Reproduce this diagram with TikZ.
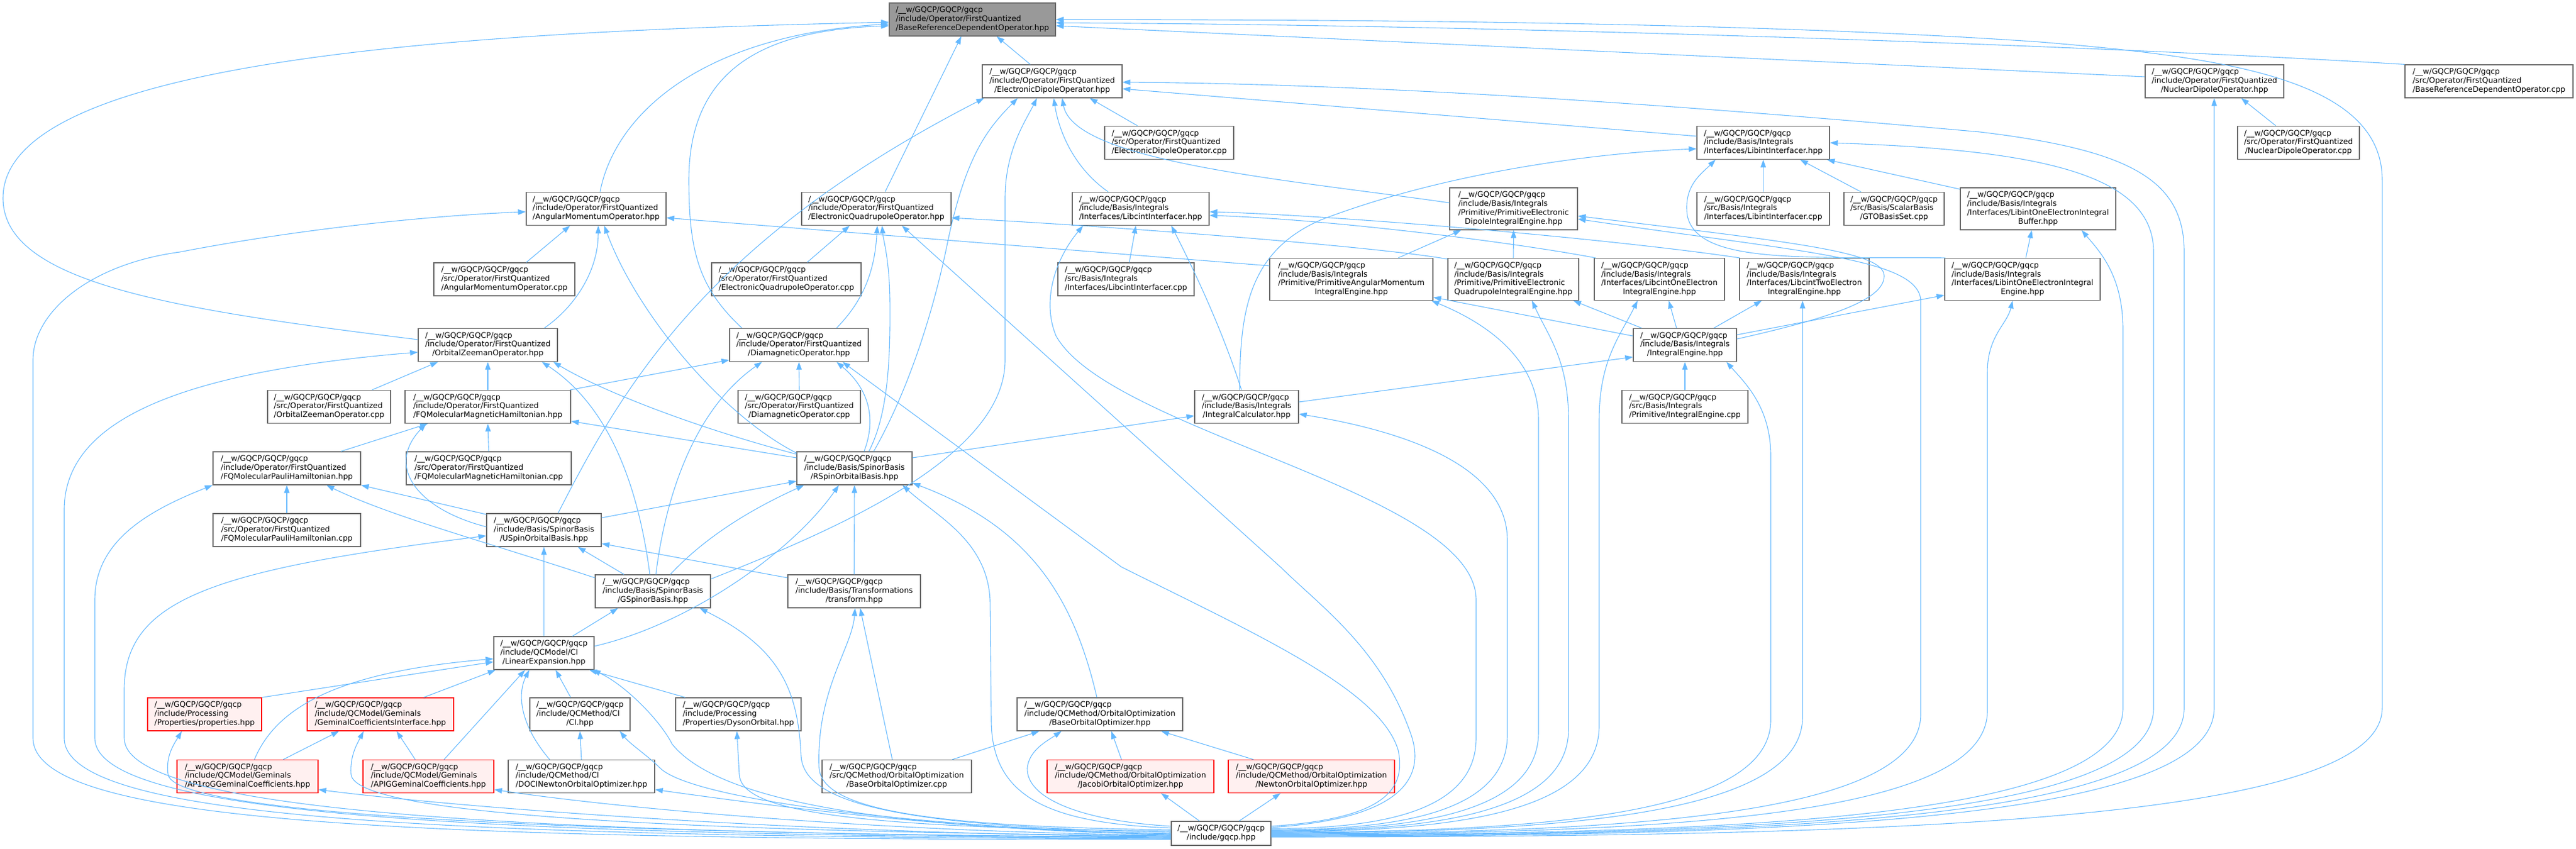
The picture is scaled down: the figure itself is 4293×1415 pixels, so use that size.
\documentclass[tikz,border=0pt]{standalone}
\usepackage{fontspec}
\setmainfont{DejaVu Sans}
\usetikzlibrary{arrows.meta}
\definecolor{edgec}{HTML}{63B8FF}
\definecolor{nodeb}{HTML}{666666}
\definecolor{rootf}{HTML}{999999}
\definecolor{redf}{HTML}{FFF0F0}
\newcommand{\dxlbl}[2]{\begin{tabular}{@{}l@{}}#1\\\multicolumn{1}{@{}c@{}}{#2}\end{tabular}}
\newcommand{\gqw}{/\_\_w/GQCP/GQCP/gqcp}
\begin{document}
\begin{tikzpicture}[x=1pt,y=-1pt,font=\fontsize{12.8}{14.8}\selectfont,
  box/.style={draw=nodeb,line width=1.3pt,fill=white,inner sep=0pt,rectangle,minimum height=55},
  tall/.style={minimum height=70},
  rootbox/.style={box,fill=rootf},
  redbox/.style={box,draw=red,fill=redf},
  e/.style={draw=edgec,line width=1.1pt,-{Triangle[length=13pt,width=9pt]}}]
\useasboundingbox (0,0) rectangle (4293,1415);
% ---------------- nodes ----------------
\node[rootbox,minimum width=277] (main) at (1620.5,32.5) {\dxlbl{\gqw\\/include/Operator/FirstQuantized}{/BaseReferenceDependentOperator.hpp}};
\node[box,minimum width=233] (EDOh) at (1753.5,135.5) {\dxlbl{\gqw\\/include/Operator/FirstQuantized}{/ElectronicDipoleOperator.hpp}};
\node[box,minimum width=231] (NDOh) at (3690.5,135.5) {\dxlbl{\gqw\\/include/Operator/FirstQuantized}{/NuclearDipoleOperator.hpp}};
\node[box,minimum width=280] (BRDOc) at (4148,135.5) {\dxlbl{\gqw\\/src/Operator/FirstQuantized}{/BaseReferenceDependentOperator.cpp}};
\node[box,minimum width=215] (EDOc) at (1948.5,238) {\dxlbl{\gqw\\/src/Operator/FirstQuantized}{/ElectronicDipoleOperator.cpp}};
\node[box,minimum width=221] (LIh) at (2938.5,238) {\dxlbl{\gqw\\/include/Basis/Integrals}{/Interfaces/LibintInterfacer.hpp}};
\node[box,minimum width=203] (NDOc) at (3830.5,238) {\dxlbl{\gqw\\/src/Operator/FirstQuantized}{/NuclearDipoleOperator.cpp}};
\node[box,minimum width=233] (AMOh) at (993.5,348) {\dxlbl{\gqw\\/include/Operator/FirstQuantized}{/AngularMomentumOperator.hpp}};
\node[box,minimum width=249] (EQOh) at (1460.5,348) {\dxlbl{\gqw\\/include/Operator/FirstQuantized}{/ElectronicQuadrupoleOperator.hpp}};
\node[box,minimum width=228] (LCIh) at (1901,348) {\dxlbl{\gqw\\/include/Basis/Integrals}{/Interfaces/LibcintInterfacer.hpp}};
\node[box,tall,minimum width=213] (PEDh) at (2522.5,348) {\dxlbl{\gqw\\/include/Basis/Integrals\\/Primitive/PrimitiveElectronic}{DipoleIntegralEngine.hpp}};
\node[box,minimum width=221] (LIc) at (2938.5,348) {\dxlbl{\gqw\\/src/Basis/Integrals}{/Interfaces/LibintInterfacer.cpp}};
\node[box,minimum width=167] (GTOc) at (3156.5,348) {\dxlbl{\gqw\\/src/Basis/ScalarBasis}{/GTOBasisSet.cpp}};
\node[box,tall,minimum width=259] (LBUFh) at (3396.5,348) {\dxlbl{\gqw\\/include/Basis/Integrals\\/Interfaces/LibintOneElectronIntegral}{Buffer.hpp}};
\node[box,minimum width=235] (AMOc) at (840.5,465.5) {\dxlbl{\gqw\\/src/Operator/FirstQuantized}{/AngularMomentumOperator.cpp}};
\node[box,minimum width=249] (EQOc) at (1310.5,465.5) {\dxlbl{\gqw\\/src/Operator/FirstQuantized}{/ElectronicQuadrupoleOperator.cpp}};
\node[box,minimum width=227] (LCIc) at (1876.5,465.5) {\dxlbl{\gqw\\/src/Basis/Integrals}{/Interfaces/LibcintInterfacer.cpp}};
\node[box,tall,minimum width=272] (PAMh) at (2252,465.5) {\dxlbl{\gqw\\/include/Basis/Integrals\\/Primitive/PrimitiveAngularMomentum}{IntegralEngine.hpp}};
\node[box,tall,minimum width=218] (PEQh) at (2522,465.5) {\dxlbl{\gqw\\/include/Basis/Integrals\\/Primitive/PrimitiveElectronic}{QuadrupoleIntegralEngine.hpp}};
\node[box,tall,minimum width=217] (LCOh) at (2765.5,465.5) {\dxlbl{\gqw\\/include/Basis/Integrals\\/Interfaces/LibcintOneElectron}{IntegralEngine.hpp}};
\node[box,tall,minimum width=216] (LCTh) at (3007,465.5) {\dxlbl{\gqw\\/include/Basis/Integrals\\/Interfaces/LibcintTwoElectron}{IntegralEngine.hpp}};
\node[box,tall,minimum width=259] (LIOh) at (3370.5,465.5) {\dxlbl{\gqw\\/include/Basis/Integrals\\/Interfaces/LibintOneElectronIntegral}{Engine.hpp}};
\node[box,minimum width=232] (OZOh) at (813,575) {\dxlbl{\gqw\\/include/Operator/FirstQuantized}{/OrbitalZeemanOperator.hpp}};
\node[box,minimum width=231] (DMOh) at (1331.5,575) {\dxlbl{\gqw\\/include/Operator/FirstQuantized}{/DiamagneticOperator.hpp}};
\node[box,minimum width=172] (IEh) at (2808,575) {\dxlbl{\gqw\\/include/Basis/Integrals}{/IntegralEngine.hpp}};
\node[box,minimum width=205] (OZOc) at (548.5,678) {\dxlbl{\gqw\\/src/Operator/FirstQuantized}{/OrbitalZeemanOperator.cpp}};
\node[box,minimum width=276] (FMMh) at (813,678) {\dxlbl{\gqw\\/include/Operator/FirstQuantized}{/FQMolecularMagneticHamiltonian.hpp}};
\node[box,minimum width=204] (DMOc) at (1332,678) {\dxlbl{\gqw\\/src/Operator/FirstQuantized}{/DiamagneticOperator.cpp}};
\node[box,minimum width=173] (ICh) at (2077.5,678) {\dxlbl{\gqw\\/include/Basis/Integrals}{/IntegralCalculator.hpp}};
\node[box,minimum width=210] (IEc) at (2808,678) {\dxlbl{\gqw\\/src/Basis/Integrals}{/Primitive/IntegralEngine.cpp}};
\node[box,minimum width=246] (FMPh) at (478,780.5) {\dxlbl{\gqw\\/include/Operator/FirstQuantized}{/FQMolecularPauliHamiltonian.hpp}};
\node[box,minimum width=275] (FMMc) at (814.5,780.5) {\dxlbl{\gqw\\/src/Operator/FirstQuantized}{/FQMolecularMagneticHamiltonian.cpp}};
\node[box,minimum width=192] (RSOh) at (1424,780.5) {\dxlbl{\gqw\\/include/Basis/SpinorBasis}{/RSpinOrbitalBasis.hpp}};
\node[box,minimum width=246] (FMPc) at (478,883.5) {\dxlbl{\gqw\\/src/Operator/FirstQuantized}{/FQMolecularPauliHamiltonian.cpp}};
\node[box,minimum width=191] (USOh) at (906.5,883.5) {\dxlbl{\gqw\\/include/Basis/SpinorBasis}{/USpinOrbitalBasis.hpp}};
\node[box,minimum width=192] (GSBh) at (1088,985.5) {\dxlbl{\gqw\\/include/Basis/SpinorBasis}{/GSpinorBasis.hpp}};
\node[box,minimum width=221] (TRh) at (1423.5,985.5) {\dxlbl{\gqw\\/include/Basis/Transformations}{/transform.hpp}};
\node[box,minimum width=167] (LEh) at (906.5,1088.5) {\dxlbl{\gqw\\/include/QCModel/CI}{/LinearExpansion.hpp}};
\node[redbox,minimum width=190] (PROPh) at (341,1190.5) {\dxlbl{\gqw\\/include/Processing}{/Properties/properties.hpp}};
\node[redbox,minimum width=244] (GCIh) at (634,1190.5) {\dxlbl{\gqw\\/include/QCModel/Geminals}{/GeminalCoefficientsInterface.hpp}};
\node[box,minimum width=167] (CIh) at (966.5,1190.5) {\dxlbl{\gqw\\/include/QCMethod/CI}{/CI.hpp}};
\node[box,minimum width=209] (DYSh) at (1230.5,1190.5) {\dxlbl{\gqw\\/include/Processing}{/Properties/DysonOrbital.hpp}};
\node[box,minimum width=276] (BOOh) at (1833,1190.5) {\dxlbl{\gqw\\/include/QCMethod/OrbitalOptimization}{/BaseOrbitalOptimizer.hpp}};
\node[redbox,minimum width=235] (AP1h) at (412.5,1294) {\dxlbl{\gqw\\/include/QCModel/Geminals}{/AP1roGGeminalCoefficients.hpp}};
\node[redbox,minimum width=218] (APIGh) at (714,1294) {\dxlbl{\gqw\\/include/QCModel/Geminals}{/APIGGeminalCoefficients.hpp}};
\node[box,minimum width=244] (DOCIh) at (969,1294) {\dxlbl{\gqw\\/include/QCMethod/CI}{/DOCINewtonOrbitalOptimizer.hpp}};
\node[box,minimum width=249] (BOOc) at (1494.5,1294) {\dxlbl{\gqw\\/src/QCMethod/OrbitalOptimization}{/BaseOrbitalOptimizer.cpp}};
\node[redbox,minimum width=278] (JACh) at (1884,1294) {\dxlbl{\gqw\\/include/QCMethod/OrbitalOptimization}{/JacobiOrbitalOptimizer.hpp}};
\node[redbox,minimum width=277] (NEWh) at (2185.5,1294) {\dxlbl{\gqw\\/include/QCMethod/OrbitalOptimization}{/NewtonOrbitalOptimizer.hpp}};
\node[box,minimum width=166,minimum height=40] (gq) at (2035,1389) {\dxlbl{\gqw}{/include/gqcp.hpp}};
% ---------------- edges into BaseReferenceDependentOperator.hpp ----------------
\draw[e] ([xshift=6.5]AMOh.north) .. controls (1025,190) and (1170,58) .. ([yshift=-7.5]main.west);
\draw[e] ([yshift=9]OZOh.west) .. controls (280,515) and (5,470) .. (5,330) .. controls (5,95) and (800,52) .. ([yshift=-4.5]main.west);
\draw[e] ([xshift=-95]DMOh.north) .. controls (1165,480) and (1148,420) .. (1148,300) .. controls (1148,110) and (1280,50) .. ([yshift=-10.5]main.west);
\draw[e] ([xshift=14.5]EQOh.north) -- ([xshift=-18.5]main.south);
\draw[e] ([xshift=-36.5]EDOh.north) -- ([xshift=40.5]main.south);
\draw[e] ([yshift=7.5]NDOh.west) -- ([yshift=-10.5]main.east);
\draw[e] (BRDOc.north west) .. controls (3600,82) and (2600,42) .. ([yshift=-5.5]main.east);
\draw[e] ([yshift=-6]gq.east) .. controls (3137,1395) and (3970,1372) .. (3970,1180) -- (3970,300) .. controls (3970,130) and (3700,95) .. (3400,70) .. controls (2900,35) and (2200,33) .. (main.east);
% ---------------- ElectronicDipoleOperator.hpp ----------------
\draw[e] ([xshift=-52.5]EDOc.north) -- ([xshift=62.5]EDOh.south);
\draw[e] ([yshift=11]LIh.west) -- ([yshift=-12.5]EDOh.east);
\draw[e] ([yshift=-4]gq.east) .. controls (2955,1393) and (3640,1368) .. (3640,1180) -- (3640,420) .. controls (3640,300) and (3550,250) .. (3300,220) .. controls (2800,175) and (2300,140) .. ([yshift=-1.5]EDOh.east);
\draw[e] ([xshift=-54]LCIh.north) .. controls (1790,280) and (1765,220) .. ([xshift=2.5]EDOh.south);
\draw[e] ([yshift=10]PEDh.west) .. controls (2150,300) and (1790,270) .. ([xshift=16.5]EDOh.south);
\draw[e] ([xshift=32]RSOh.north) .. controls (1520,640) and (1560,500) .. (1580,400) .. controls (1610,260) and (1645,215) .. ([xshift=-57.5]EDOh.south);
\draw[e] ([xshift=23.5]USOh.north) .. controls (1040,640) and (1180,400) .. ([xshift=-113.5]EDOh.south);
\draw[e] ([yshift=20.5]GSBh.east) .. controls (1400,880) and (1675,760) .. (1675,600) -- (1675,330) .. controls (1675,250) and (1710,200) .. ([xshift=-25.5]EDOh.south);
% ---------------- NuclearDipoleOperator.hpp ----------------
\draw[e] ([xshift=-37.5]NDOc.north) -- ([xshift=44.5]NDOh.south);
\draw[e] ([yshift=-5]gq.east) .. controls (2983,1394) and (3690,1370) .. (3690,1180) -- ([xshift=-0.5]NDOh.south);
% ---------------- LibintInterfacer.hpp ----------------
\draw[e] (LIc.north) -- (LIh.south);
\draw[e] ([xshift=-55]GTOc.north) -- ([xshift=61.5]LIh.south);
\draw[e] ([yshift=-3]LBUFh.north west) -- ([xshift=-5]LIh.south east);
\draw[e] ([xshift=-11.5]ICh.north) .. controls (2066,520) and (2080,420) .. (2200,367) .. controls (2400,290) and (2650,255) .. ([yshift=-10]LIh.west);
\draw[e] ([xshift=2]LIOh.north west) .. controls (3000,428) and (2830,440) .. (2812,360) .. controls (2805,310) and (2835,290) .. ([xshift=-79.5]LIh.south);
\draw[e] ([yshift=-3]gq.east) .. controls (2927,1392) and (3589,1366) .. (3589,1180) -- (3589,420) .. controls (3589,290) and (3400,250) .. (LIh.east);
% ---------------- AngularMomentumOperator.hpp ----------------
\draw[e] ([xshift=36.5]AMOc.north) -- ([xshift=-43.5]AMOh.south);
\draw[e] ([xshift=94]OZOh.north) .. controls (960,510) and (997,450) .. ([xshift=3.5]AMOh.south);
\draw[e] ([yshift=25.5]RSOh.west) .. controls (1200,690) and (1060,520) .. ([xshift=13.5]AMOh.south);
\draw[e] ([yshift=22.5]PAMh.west) -- ([yshift=-15]AMOh.east);
\draw[e] ([yshift=-10]gq.west) .. controls (700,1400) and (55,1375) .. (55,1230) -- (55,600) .. controls (55,520) and (150,440) .. (300,420) .. controls (480,385) and (700,360) .. ([yshift=-5]AMOh.west);
% ---------------- ElectronicQuadrupoleOperator.hpp ----------------
\draw[e] ([xshift=34.5]EQOc.north) -- ([xshift=-44.5]EQOh.south);
\draw[e] ([yshift=-2]PEQh.north west) .. controls (2300,412) and (1900,380) .. ([yshift=-15]EQOh.east);
\draw[e] ([xshift=62.5]DMOh.north) .. controls (1440,500) and (1458,450) .. ([xshift=1.5]EQOh.south);
\draw[e] ([xshift=24]RSOh.north) .. controls (1480,690) and (1484,600) .. (1483,500) .. controls (1482,430) and (1472,400) .. ([xshift=9.5]EQOh.south);
\draw[e] ([yshift=10]gq.east) .. controls (2330,1365) and (2380,1300) .. (2350,1220) .. controls (2300,1080) and (2200,1010) .. (2134,945) -- ([xshift=42.5]EQOh.south);
% ---------------- LibcintInterfacer.hpp ----------------
\draw[e] ([xshift=5.5]LCIc.north) -- ([xshift=-8]LCIh.south);
\draw[e] ([xshift=3]LCOh.north west) .. controls (2500,400) and (2200,365) .. ([yshift=-11]LCIh.east);
\draw[e] ([xshift=1]LCTh.north west) .. controls (2700,400) and (2250,360) .. ([yshift=-5]LCIh.east);
\draw[e] ([xshift=-8.5]ICh.north) .. controls (2040,560) and (2000,470) .. ([xshift=51]LCIh.south);
\draw[e] ([yshift=8]gq.east) .. controls (2306,1381) and (2460,1351) .. (2460,1230) -- (2460,1000) .. controls (2460,820) and (1850,720) .. (1760,560) .. controls (1735,500) and (1760,430) .. ([xshift=-96]LCIh.south);
% ---------------- PrimitiveElectronicDipoleIntegralEngine.hpp ----------------
\draw[e] ([xshift=78]PAMh.north) -- ([xshift=-87.5]PEDh.south);
\draw[e] (PEQh.north) -- (PEDh.south);
\draw[e] ([yshift=10]IEh.east) .. controls (3050,530) and (3140,500) .. (3140,460) .. controls (3140,420) and (3000,405) .. ([yshift=-12]PEDh.east);
\draw[e] (gq.east) .. controls (2714,1389) and (3201,1359) .. (3201,1190) -- (3201,500) .. controls (3195,430) and (3000,420) .. ([yshift=-17]PEDh.east);
% ---------------- LibintOneElectronIntegralBuffer.hpp ----------------
\draw[e] ([xshift=5.5]LIOh.north) -- ([xshift=-10.5]LBUFh.south);
\draw[e] ([yshift=-2]gq.east) .. controls (2899,1391) and (3538,1364) .. (3538,1180) -- (3538,550) .. controls (3538,460) and (3500,420) .. ([xshift=72.5]LBUFh.south);
% ---------------- engines ----------------
\draw[e] ([yshift=15]IEh.west) -- ([yshift=-30]PAMh.east);
\draw[e] ([yshift=5]gq.east) .. controls (2363,1384) and (2564,1354) .. (2564,1220) -- (2564,700) .. controls (2564,600) and (2480,540) .. ([xshift=-3]PAMh.south east);
\draw[e] ([xshift=-72]IEh.north) -- ([xshift=100]PEQh.south);
\draw[e] ([yshift=4]gq.east) .. controls (2391,1385) and (2614,1355) .. (2614,1215) -- (2614,700) .. controls (2614,600) and (2580,560) .. ([xshift=31]PEQh.south);
\draw[e] ([xshift=-14]IEh.north) -- ([xshift=15.5]LCOh.south);
\draw[e] ([yshift=3]gq.east) .. controls (2419,1386) and (2665,1356) .. (2665,1210) -- (2665,700) .. controls (2665,600) and (2700,560) .. ([xshift=-36.5]LCOh.south);
\draw[e] ([xshift=48]IEh.north) -- ([xshift=-71]LCTh.south);
\draw[e] ([yshift=1]gq.east) .. controls (2605,1388) and (3004,1358) .. (3004,1195) -- ([xshift=-3]LCTh.south);
\draw[e] ([yshift=17]IEh.east) -- ([yshift=-26.5]LIOh.west);
\draw[e] ([yshift=-1]gq.east) .. controls (2775,1390) and (3312,1362) .. (3312,1185) -- (3312,620) .. controls (3312,560) and (3345,540) .. ([xshift=-16.5]LIOh.south);
% ---------------- IntegralEngine.hpp / IntegralCalculator.hpp ----------------
\draw[e] (IEc.north) -- (IEh.south);
\draw[e] ([yshift=8]ICh.east) -- ([yshift=-20]IEh.west);
\draw[e] ([yshift=2]gq.east) .. controls (2576,1387) and (2951,1357) .. (2951,1200) -- (2951,760) .. controls (2951,680) and (2910,640) .. ([xshift=69]IEh.south);
\draw[e] ([yshift=6]gq.east) .. controls (2335,1383) and (2512,1353) .. (2512,1225) -- (2512,900) .. controls (2512,780) and (2350,720) .. ([yshift=-12]ICh.east);
\draw[e] ([yshift=17.5]RSOh.east) -- ([yshift=-15]ICh.west);
% ---------------- OrbitalZeemanOperator.hpp ----------------
\draw[e] ([xshift=71.5]OZOc.north) -- ([xshift=-83]OZOh.south);
\draw[e] (FMMh.north) -- (OZOh.south);
\draw[e] ([yshift=23.5]RSOh.west) .. controls (1150,710) and (1000,650) .. ([xshift=109]OZOh.south);
\draw[e] ([xshift=-5]GSBh.north) .. controls (1065,820) and (1020,680) .. ([xshift=90]OZOh.south);
\draw[e] ([yshift=-9]gq.west) .. controls (750,1395) and (107,1368) .. (107,1230) -- (107,850) .. controls (107,700) and (300,620) .. ([yshift=-12]OZOh.west);
% ---------------- DiamagneticOperator.hpp ----------------
\draw[e] (DMOc.north) -- (DMOh.south);
\draw[e] ([xshift=137]FMMh.north) -- ([yshift=-25]DMOh.west);
\draw[e] ([xshift=5]GSBh.north) .. controls (1110,820) and (1160,680) .. ([xshift=-61.5]DMOh.south);
\draw[e] ([xshift=16]RSOh.north) .. controls (1460,700) and (1450,650) .. ([xshift=62.5]DMOh.south);
\draw[e] ([yshift=12]gq.east) .. controls (2300,1365) and (2345,1320) .. (2330,1250) .. controls (2300,1150) and (2100,1060) .. (1869,945) -- ([xshift=72.5]DMOh.south);
% ---------------- FQMolecularMagneticHamiltonian.hpp ----------------
\draw[e] (FMMc.north) -- (FMMh.south);
\draw[e] ([xshift=90]FMPh.north) -- ([xshift=-100]FMMh.south);
\draw[e] ([yshift=5.5]USOh.west) .. controls (700,850) and (640,780) .. ([xshift=-103]FMMh.south);
\draw[e] ([yshift=17.5]RSOh.west) -- ([yshift=-24]FMMh.east);
% ---------------- FQMolecularPauliHamiltonian.hpp ----------------
\draw[e] (FMPc.north) -- (FMPh.south);
\draw[e] ([yshift=-2]USOh.north west) -- (FMPh.south east);
\draw[e] ([yshift=22.5]GSBh.west) .. controls (800,900) and (650,860) .. ([xshift=66]FMPh.south);
\draw[e] ([yshift=-8]gq.west) .. controls (800,1392) and (158,1360) .. (158,1230) -- (158,1000) .. controls (158,900) and (250,850) .. (FMPh.south west);
% ---------------- RSpinOrbitalBasis.hpp ----------------
\draw[e] ([yshift=20.5]USOh.east) -- ([yshift=-21.5]RSOh.west);
\draw[e] ([xshift=29]GSBh.north) .. controls (1180,890) and (1260,845) .. ([xshift=-84]RSOh.south);
\draw[e] (TRh.north) -- (RSOh.south);
\draw[e] ([yshift=11.5]LEh.east) .. controls (1150,1040) and (1320,920) .. ([xshift=-26]RSOh.south);
\draw[e] ([xshift=-5]BOOh.north) .. controls (1790,1000) and (1720,880) .. ([yshift=-24.5]RSOh.east);
\draw[e] ([yshift=9]gq.west) .. controls (1750,1372) and (1652,1330) .. (1652,1200) -- (1650,1000) .. controls (1645,900) and (1560,860) .. ([xshift=80]RSOh.south);
% ---------------- USpinOrbitalBasis.hpp ----------------
\draw[e] ([xshift=-48]GSBh.north) -- ([xshift=56.5]USOh.south);
\draw[e] ([yshift=22.5]TRh.west) -- ([yshift=-22.5]USOh.east);
\draw[e] (LEh.north) -- (USOh.south);
\draw[e] ([yshift=-7]gq.west) .. controls (850,1390) and (207,1352) .. (207,1230) -- (207,1150) .. controls (207,1000) and (350,950) .. ([yshift=-9.5]USOh.west);
% ---------------- GSpinorBasis.hpp / transform.hpp ----------------
\draw[e] ([xshift=47.5]LEh.north) -- ([xshift=-58]GSBh.south);
\draw[e] ([yshift=2]gq.west) .. controls (1500,1378) and (1340,1340) .. (1335,1260) .. controls (1330,1150) and (1300,1080) .. ([xshift=78]GSBh.south);
\draw[e] ([xshift=-7.5]BOOc.north) -- ([xshift=10]TRh.south);
\draw[e] ([yshift=6]gq.west) .. controls (1550,1378) and (1370,1350) .. (1365,1280) .. controls (1360,1150) and (1420,1080) .. ([xshift=1.5]TRh.south);
% ---------------- LinearExpansion.hpp ----------------
\draw[e] (PROPh.north east) -- ([yshift=-14.5]LEh.west);
\draw[e] ([xshift=11.5]AP1h.north) .. controls (460,1180) and (560,1120) .. ([yshift=-9.5]LEh.west);
\draw[e] ([xshift=72]GCIh.north) -- ([xshift=-80.5]LEh.south);
\draw[e] ([xshift=26]APIGh.north) -- ([xshift=-31.5]LEh.south);
\draw[e] ([xshift=-53]DOCIh.north) .. controls (860,1200) and (865,1150) .. ([xshift=-24.5]LEh.south);
\draw[e] ([xshift=-15.5]CIh.north) -- ([xshift=19.5]LEh.south);
\draw[e] ([xshift=-88.5]DYSh.north) -- ([xshift=75.5]LEh.south);
\draw[e] (gq.west) .. controls (1500,1382) and (1200,1340) .. (1120,1240) .. controls (1100,1200) and (1040,1140) .. ([xshift=-3]LEh.south east);
% ---------------- lower row ----------------
\draw[e] ([yshift=-6]gq.west) .. controls (900,1390) and (285,1355) .. (280,1290) .. controls (276,1260) and (290,1240) .. ([xshift=-38]PROPh.south);
\draw[e] ([xshift=59.5]AP1h.north) -- ([xshift=-69]GCIh.south);
\draw[e] ([xshift=-22]APIGh.north) -- ([xshift=27]GCIh.south);
\draw[e] ([yshift=-4]gq.west) .. controls (1000,1385) and (588,1350) .. (585,1290) .. controls (583,1260) and (595,1240) .. ([xshift=-28]GCIh.south);
\draw[e] (DOCIh.north) -- (CIh.south);
\draw[e] ([yshift=-1]gq.west) .. controls (1500,1378) and (1150,1330) .. (1100,1280) .. controls (1080,1260) and (1050,1240) .. ([xshift=66.5]CIh.south);
\draw[e] ([yshift=4]gq.west) .. controls (1400,1380) and (1234,1350) .. (1232,1290) -- ([xshift=-2.5]DYSh.south);
\draw[e] ([xshift=92.5]BOOc.north) -- ([xshift=-101]BOOh.south);
\draw[e] ([xshift=-15]JACh.north) -- ([xshift=19]BOOh.south);
\draw[e] ([xshift=-96.5]NEWh.north) -- ([xshift=102]BOOh.south);
\draw[e] ([yshift=12]gq.west) .. controls (1800,1368) and (1710,1330) .. (1712,1280) .. controls (1715,1250) and (1745,1235) .. ([xshift=-64]BOOh.south);
\draw[e] ([xshift=-36]gq.north) -- ([xshift=51]JACh.south);
\draw[e] ([xshift=30]gq.north) -- ([xshift=-51.5]NEWh.south);
\draw[e] ([yshift=-5]gq.west) .. controls (1400,1392) and (800,1350) .. ([yshift=-22]AP1h.east);
\draw[e] ([yshift=-3]gq.west) .. controls (1500,1388) and (1050,1350) .. ([yshift=-22]APIGh.east);
\draw[e] ([yshift=-2]gq.west) .. controls (1600,1385) and (1300,1345) .. ([yshift=-22]DOCIh.east);
\end{tikzpicture}
\end{document}
